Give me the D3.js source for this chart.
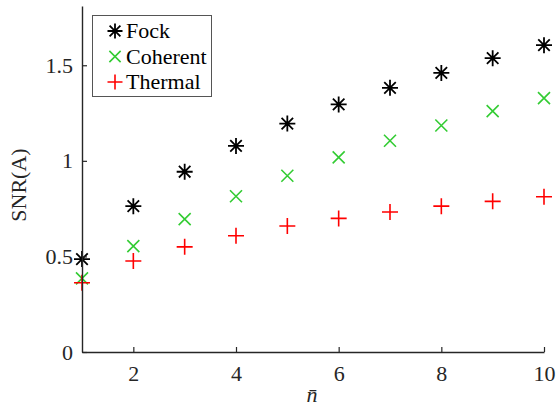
<!DOCTYPE html>
<html>
<head>
<meta charset="utf-8">
<script src="https://cdn.jsdelivr.net/npm/d3@7"></script>
<style>
  body { margin: 0; background: #fff; }
  svg { display: block; }
</style>
</head>
<body>
<div id="chart"></div>
<script>
// photon number on the x axis
const nbar = [1, 2, 3, 4, 5, 6, 7, 8, 9, 10];
// SNR(A)
const fock = [0.486, 0.763, 0.943, 1.078, 1.195, 1.295, 1.382, 1.460, 1.537, 1.605];
const coherent = [0.385, 0.554, 0.695, 0.815, 0.922, 1.018, 1.105, 1.185, 1.260, 1.328];
const thermal = [0.362, 0.476, 0.550, 0.608, 0.659, 0.699, 0.732, 0.763, 0.788, 0.812];
const xTicks = [2, 4, 6, 8, 10];
const yTicks = [0, 0.5, 1, 1.5];
const seriesNames = ["Fock", "Coherent", "Thermal"];

const width = 557, height = 416;
const axisColor = "#262626";
const fontFamily = "'Liberation Serif', 'Times New Roman', serif";
const fontSize = 22;

const svg = d3.select("#chart").append("svg")
  .attr("width", width)
  .attr("height", height)
  .attr("font-family", fontFamily);

const x = d3.scaleLinear().domain([1, 10]).range([82, 544]);
const y = d3.scaleLinear().domain([0, 1.81]).range([352, 6]);

// markers, MATLAB style
function marker(sel, kind, r) {
  if (kind === "Fock") {
    const d = r * 0.72;
    sel.append("path")
      .attr("d", `M${-r},0H${r}M0,${-r}V${r}M${-d},${-d}L${d},${d}M${-d},${d}L${d},${-d}`)
      .attr("stroke", "#000").attr("stroke-width", 1.8);
  } else if (kind === "Coherent") {
    const d = r * 0.75;
    sel.append("path")
      .attr("d", `M${-d},${-d}L${d},${d}M${-d},${d}L${d},${-d}`)
      .attr("stroke", "#33cc33").attr("stroke-width", 1.6);
  } else {
    sel.append("path")
      .attr("d", `M${-r},0H${r}M0,${-r}V${r}`)
      .attr("stroke", "#ff0000").attr("stroke-width", 1.6);
  }
}

const series = [
  { name: "Fock", values: fock },
  { name: "Coherent", values: coherent },
  { name: "Thermal", values: thermal }
];

series.forEach(s => {
  svg.append("g")
    .selectAll("g")
    .data(nbar.map((n, i) => [n, s.values[i]]))
    .join("g")
    .attr("transform", d => `translate(${x(d[0])},${y(d[1])})`)
    .each(function() { marker(d3.select(this), s.name, 8); });
});

// axes
const xAxis = d3.axisBottom(x)
  .tickValues(xTicks)
  .tickSizeInner(-5)
  .tickSizeOuter(0)
  .tickPadding(13)
  .tickFormat(d3.format("~g"));

const yAxis = d3.axisLeft(y)
  .tickValues(yTicks)
  .tickSizeInner(-5)
  .tickSizeOuter(0)
  .tickPadding(9)
  .tickFormat(d3.format("~g"));

const gx = svg.append("g")
  .attr("transform", `translate(0,${y(0)})`)
  .call(xAxis);

const gy = svg.append("g")
  .attr("transform", `translate(${x(1)},0)`)
  .call(yAxis);

[gx, gy].forEach(g => {
  g.attr("font-family", fontFamily).attr("font-size", fontSize);
  g.select(".domain").attr("stroke", axisColor).attr("stroke-width", 1.4);
  g.selectAll(".tick line").attr("stroke", axisColor).attr("stroke-width", 1.2);
  g.selectAll(".tick text")
    .attr("fill", axisColor)
    .attr("font-family", fontFamily)
    .attr("font-size", fontSize);
});

// axis labels
svg.append("text")
  .attr("x", 312)
  .attr("y", 402)
  .attr("text-anchor", "middle")
  .attr("fill", axisColor)
  .attr("font-family", fontFamily)
  .attr("font-size", fontSize)
  .attr("font-style", "italic")
  .text("n\u0304");

svg.append("text")
  .attr("transform", "translate(26,185) rotate(-90)")
  .attr("text-anchor", "middle")
  .attr("fill", axisColor)
  .attr("font-family", fontFamily)
  .attr("font-size", fontSize)
  .text("SNR(A)");

// legend
const legend = svg.append("g");
legend.append("rect")
  .attr("x", 92.5).attr("y", 15.5)
  .attr("width", 119).attr("height", 81)
  .attr("fill", "#fff")
  .attr("stroke", "#555")
  .attr("stroke-width", 1);

const item = legend.selectAll("g.item")
  .data(seriesNames)
  .join("g")
  .attr("class", "item")
  .attr("transform", (d, i) => `translate(115,${31 + i * 25.5})`);

item.each(function(d) { marker(d3.select(this), d, 7.5); });

item.append("text")
  .attr("x", 11)
  .attr("dy", "0.34em")
  .attr("fill", "#000")
  .attr("font-family", fontFamily)
  .attr("font-size", fontSize)
  .text(d => d);
</script>
</body>
</html>
